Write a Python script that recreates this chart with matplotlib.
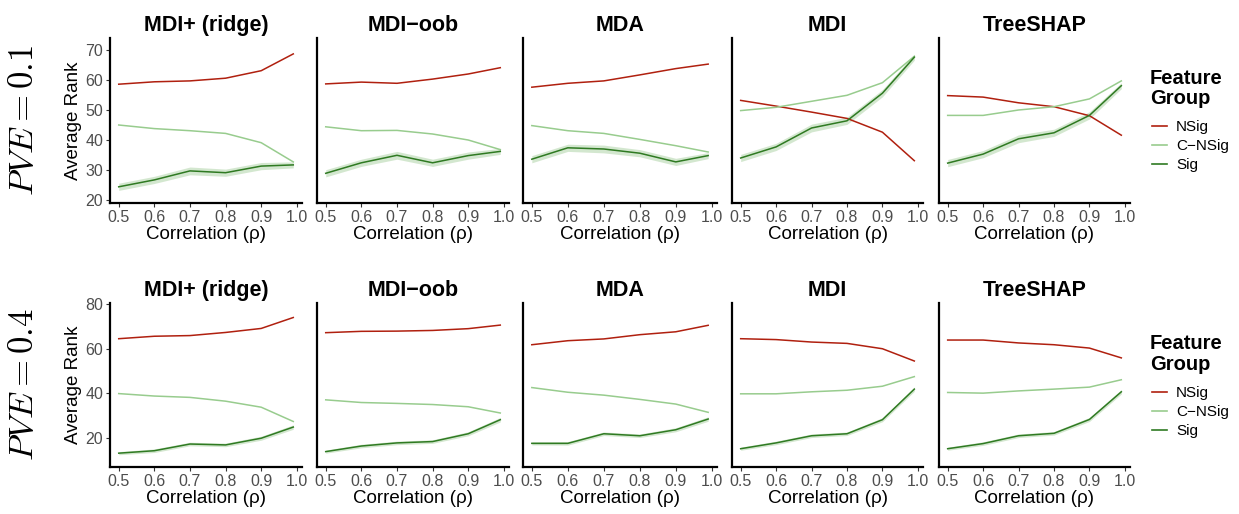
import matplotlib
matplotlib.use("Agg")
import matplotlib.pyplot as plt
from matplotlib.lines import Line2D
import numpy as np

plt.rcParams['font.family'] = ['Liberation Sans', 'DejaVu Sans']
plt.rcParams['mathtext.fontset'] = 'cm'

# correlation levels (last point sits just below 1.0)
rho = [0.5, 0.6, 0.7, 0.8, 0.9, 0.99]
methods = ["MDI+ (ridge)", "MDI\u2212oob", "MDA", "MDI", "TreeSHAP"]
groups = ["NSig", "C\u2212NSig", "Sig"]
pve_labels = [r"$PVE = 0.1$", r"$PVE = 0.4$"]

# average rank, PVE = 0.1  (one list per method: NSig, C-NSig, Sig)
pve01_nsig = [
    [58.6, 59.4, 59.7, 60.6, 63.1, 68.7],
    [58.7, 59.3, 58.9, 60.3, 62.0, 64.1],
    [57.6, 58.9, 59.7, 61.7, 63.8, 65.3],
    [53.2, 51.3, 49.3, 47.2, 42.6, 33.1],
    [54.8, 54.3, 52.4, 51.1, 48.1, 41.6],
]
pve01_cnsig = [
    [45.0, 43.8, 43.1, 42.2, 39.1, 32.7],
    [44.4, 43.1, 43.2, 42.0, 40.0, 36.8],
    [44.8, 43.1, 42.2, 40.2, 38.1, 36.0],
    [49.8, 50.9, 52.9, 54.9, 59.1, 67.9],
    [48.2, 48.2, 50.0, 51.1, 53.7, 59.7],
]
pve01_sig = [
    [24.4, 26.7, 29.7, 29.1, 31.3, 31.7],
    [28.9, 32.4, 34.9, 32.4, 34.8, 36.2],
    [33.6, 37.4, 37.0, 35.6, 32.7, 34.8],
    [34.0, 37.7, 44.0, 46.4, 55.6, 67.6],
    [32.3, 35.3, 40.4, 42.4, 48.2, 58.1],
]
pve01_sig_se = [1.2, 1.2, 1.3, 1.2, 1.2, 1.0]

# average rank, PVE = 0.4
pve04_nsig = [
    [64.5, 65.6, 65.9, 67.3, 69.1, 74.0],
    [67.2, 67.8, 67.9, 68.2, 69.0, 70.6],
    [61.8, 63.6, 64.4, 66.3, 67.6, 70.5],
    [64.5, 64.1, 63.0, 62.4, 60.0, 54.5],
    [63.9, 63.9, 62.6, 61.8, 60.3, 55.9],
]
pve04_cnsig = [
    [39.9, 38.8, 38.2, 36.5, 33.8, 27.4],
    [37.1, 35.9, 35.5, 35.0, 34.0, 31.2],
    [42.6, 40.5, 39.2, 37.3, 35.2, 31.5],
    [39.8, 39.8, 40.7, 41.4, 43.2, 47.5],
    [40.4, 40.1, 41.1, 41.9, 42.8, 46.1],
]
pve04_sig = [
    [13.2, 14.3, 17.3, 16.9, 19.9, 24.9],
    [13.9, 16.4, 17.8, 18.4, 21.9, 28.2],
    [17.6, 17.6, 21.9, 21.0, 23.7, 28.5],
    [15.2, 17.8, 21.0, 21.9, 28.2, 41.9],
    [15.2, 17.5, 21.0, 22.1, 28.3, 40.7],
]
pve04_sig_se = [0.7, 0.8, 0.8, 0.8, 0.9, 1.0]

colors = {"NSig": "#B0200F", "C\u2212NSig": "#98CC8E", "Sig": "#2F7A22"}
ribbon_color = "#A9D0A0"

rows = [
    (pve01_nsig, pve01_cnsig, pve01_sig, pve01_sig_se, (19, 74), [20, 30, 40, 50, 60, 70]),
    (pve04_nsig, pve04_cnsig, pve04_sig, pve04_sig_se, (7, 80.5), [20, 40, 60, 80]),
]

fig = plt.figure(figsize=(12.39, 5.14), dpi=100)
W, H = 1239.0, 514.0
panel_x = [110, 317, 523, 732, 939]
panel_w = [192, 192, 194, 191, 191]
row_top = [38, 303]
row_bot = [203, 467]
legend_title_top = [69, 334]
legend_mid = [146, 412]

for r, (nsig, cnsig, sig, se, ylim, yticks) in enumerate(rows):
    for m, name in enumerate(methods):
        ax = fig.add_axes([panel_x[m] / W, 1 - row_bot[r] / H,
                           panel_w[m] / W, (row_bot[r] - row_top[r]) / H])
        x = np.array(rho)
        s = np.array(sig[m])
        e = np.array(se)
        ax.fill_between(x, s - e, s + e, color=ribbon_color, alpha=0.5, lw=0)
        ax.plot(x, nsig[m], color=colors["NSig"], lw=1.1)
        ax.plot(x, cnsig[m], color=colors["C\u2212NSig"], lw=1.1)
        ax.plot(x, sig[m], color=colors["Sig"], lw=1.1)
        ax.set_xlim(0.4755, 1.0145)
        ax.set_ylim(*ylim)
        ax.set_xticks([0.5, 0.6, 0.7, 0.8, 0.9, 1.0])
        ax.set_xticklabels(["0.5", "0.6", "0.7", "0.8", "0.9", "1.0"])
        ax.set_yticks(yticks)
        ax.spines['top'].set_visible(False)
        ax.spines['right'].set_visible(False)
        ax.spines['left'].set_linewidth(1.6)
        ax.spines['bottom'].set_linewidth(1.6)
        ax.tick_params(axis='both', length=3, width=0.8, color='#333333',
                       labelsize=11.5, labelcolor='#4D4D4D', pad=2)
        if m > 0:
            ax.set_yticklabels([])
            ax.tick_params(axis='y', length=0)
        else:
            ax.set_ylabel("Average Rank", fontsize=13.5, labelpad=2)
        ax.set_xlabel("Correlation (\u03c1)", fontsize=13.5, labelpad=1)
        ax.set_title(name, fontsize=15.5, fontweight='bold', pad=5)
        ax.patch.set_alpha(0)

    yc = 1 - (row_top[r] + row_bot[r]) / 2 / H
    fig.text(0.019, yc, pve_labels[r], rotation=90, fontsize=25,
             ha='center', va='center')

    fig.text(1150 / W, 1 - legend_title_top[r] / H, "Feature\nGroup",
             fontsize=14.5, fontweight='bold', ha='left', va='top',
             linespacing=1.1)
    handles = [Line2D([0], [0], color=colors[g], lw=1.2) for g in groups]
    fig.legend(handles, groups, loc='center left',
               bbox_to_anchor=(1138 / W, 1 - legend_mid[r] / H),
               frameon=False, fontsize=11, handlelength=1.0,
               handletextpad=0.6, labelspacing=0.32, borderpad=0.4)

fig.savefig("out.png", dpi=100)
